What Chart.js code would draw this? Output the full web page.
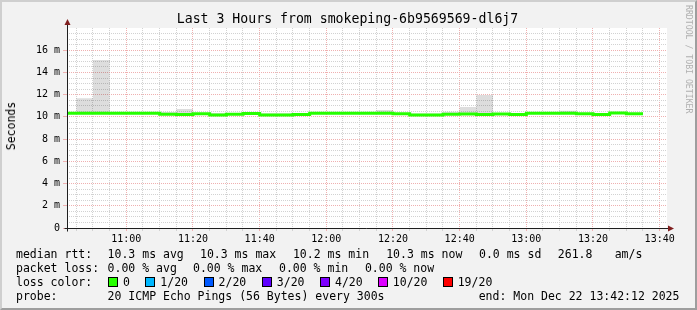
<!DOCTYPE html>
<html>
<head>
<meta charset="utf-8">
<script src="https://cdn.jsdelivr.net/npm/chart.js@4/dist/chart.umd.min.js"></script>
<style>
  html, body { margin: 0; padding: 0; background: #f2f2f2; }
  #frame { position: relative; width: 697px; height: 310px; background: #f2f2f2; overflow: hidden;
           font-family: "DejaVu Sans Mono", monospace; color: #000; }
  #frame canvas { position: absolute; left: 0; top: 0; }
  .txt { position: absolute; white-space: pre; font-size: 11.5px; line-height: 14px; }
  .box { position: absolute; width: 8px; height: 8px; border: 1px solid #000; }
  #title { position: absolute; left: 0; width: 695px; top: 11px; text-align: center; font-size: 13.2px; line-height: 16px; white-space: pre; }
  #ylabel { position: absolute; left: 11px; top: 126px; font-size: 11.5px; line-height: 14px; white-space: pre;
            transform: translate(-50%, -50%) rotate(-90deg); }
  #mark { position: absolute; left: 684px; top: 5px; font-size: 8.2px; line-height: 10px; color: #b0b0b0;
          writing-mode: vertical-rl; white-space: pre; }
  #shade { position: absolute; left: 0; top: 0; width: 697px; height: 310px; box-sizing: border-box; pointer-events: none;
           border-top: 2px solid #cfcfcf; border-left: 2px solid #cfcfcf;
           border-right: 2px solid #9e9e9e; border-bottom: 2px solid #9e9e9e; }
</style>
</head>
<body>
<div id="frame">
  <canvas id="chart" width="697" height="310"></canvas>
  <div id="title">Last 3 Hours from smokeping-6b9569569-dl6j7</div>
  <div id="ylabel">Seconds</div>
  <div id="mark">RRDTOOL / TOBI OETIKER</div>
  <div id="legend"></div>
  <div id="shade"></div>
</div>
<script>
"use strict";
// graph window: 10:42:12 .. 13:42:12, in minutes since midnight
const windowStart = 10 * 60 + 42 + 12 / 60;
const windowEnd = windowStart + 180;
// 5 minute samples, first one starts at 10:40
const sampleStart = 10 * 60 + 40;
const sampleStep = 5;

// median rtt per sample (ms)
const medianRtt = [10.32, 10.32, 10.32, 10.32, 10.32, 10.32, 10.24, 10.21, 10.29, 10.18,
                   10.24, 10.30, 10.18, 10.18, 10.21, 10.33, 10.33, 10.33, 10.33, 10.33,
                   10.28, 10.18, 10.17, 10.23, 10.27, 10.22, 10.27, 10.22, 10.33, 10.33,
                   10.33, 10.28, 10.22, 10.35, 10.28];
// top of the smoke (slowest ping) per sample (ms)
const smokeTop = [10.40, 11.67, 15.12, 10.40, 10.40, 10.40, 10.45, 10.70, 10.35, 10.36,
                  10.35, 10.35, 10.33, 10.33, 10.30, 10.40, 10.40, 10.40, 10.40, 10.63,
                  10.35, 10.30, 10.30, 10.47, 10.90, 11.97, 10.35, 10.30, 10.40, 10.40,
                  10.55, 10.35, 10.30, 10.40, 10.35];

const xTickValues = [660, 680, 700, 720, 740, 760, 780, 800, 820];
const xTickLabels = ["11:00", "11:20", "11:40", "12:00", "12:20", "12:40", "13:00", "13:20", "13:40"];
const yTickValues = [0, 2, 4, 6, 8, 10, 12, 14, 16];
const yTickLabels = ["0", "2 m", "4 m", "6 m", "8 m", "10 m", "12 m", "14 m", "16 m"];
const yMax = 18;

const lossLabels = ["0", "1/20", "2/20", "3/20", "4/20", "10/20", "19/20"];
const lossColors = ["#26ff00", "#00b8ff", "#0059ff", "#5e00ff", "#7e00ff", "#dd00ff", "#ff0000"];

const GRID = "#d2d2d2";
const MGRID = "#efb0b0";

function stepPoints(values) {
    const pts = [];
    for(let i = 0; i <= values.length; i++) {
        pts.push({x: sampleStart + i * sampleStep, y: values[Math.min(i, values.length - 1)]});
    }
    return pts;
}

// legend lines under the graph
const legend = document.getElementById("legend");
function addText(x, y, text) {
    const d = document.createElement("div");
    d.className = "txt";
    d.style.left = x + "px";
    d.style.top = (y - 7) + "px";
    d.textContent = text;
    legend.appendChild(d);
}
[
    [16, 254, "median rtt:"], [107.6, 254, "10.3 ms avg"], [200, 254, "10.3 ms max"],
    [292.9, 254, "10.2 ms min"], [386.2, 254, "10.3 ms now"], [479, 254, "0.0 ms sd"],
    [557.8, 254, "261.8"], [614.7, 254, "am/s"],
    [16, 268, "packet loss:"], [107.6, 268, "0.00 % avg"], [193, 268, "0.00 % max"],
    [279, 268, "0.00 % min"], [364.9, 268, "0.00 % now"],
    [16, 282, "loss color:"],
    [16, 296, "probe:"], [107.6, 296, "20 ICMP Echo Pings (56 Bytes) every 300s"],
    [478.7, 296, "end: Mon Dec 22 13:42:12 2025"]
].forEach(t => addText(t[0], t[1], t[2]));
const boxX = [108, 145.3, 203.6, 261.8, 320, 377.8, 442.7];
lossLabels.forEach((label, i) => {
    const b = document.createElement("div");
    b.className = "box";
    b.style.left = boxX[i] + "px";
    b.style.top = "277px";
    b.style.background = lossColors[i];
    legend.appendChild(b);
    addText(boxX[i] + 15, 282, label);
});

const rrdFrame = {
    id: "rrdFrame",
    beforeDraw(chart) {
        const {ctx, chartArea: a} = chart;
        ctx.save();
        ctx.fillStyle = "#ffffff";
        ctx.fillRect(a.left, a.top, a.right - a.left, a.bottom - a.top);
        ctx.restore();
    },
    afterDraw(chart) {
        const {ctx, chartArea: a} = chart;
        const x0 = Math.round(a.left) + 0.5;
        const y0 = Math.round(a.bottom) + 0.5;
        ctx.save();
        ctx.strokeStyle = "#1f1f1f";
        ctx.lineWidth = 1;
        ctx.beginPath();
        ctx.moveTo(x0, y0 + 3);
        ctx.lineTo(x0, a.top - 4);
        ctx.moveTo(x0 - 3, y0);
        ctx.lineTo(a.right + 2, y0);
        ctx.stroke();
        ctx.fillStyle = "#801f1f";
        ctx.beginPath();
        ctx.moveTo(x0 - 3, a.top - 3);
        ctx.lineTo(x0 + 3, a.top - 3);
        ctx.lineTo(x0, a.top - 9);
        ctx.closePath();
        ctx.fill();
        ctx.beginPath();
        ctx.moveTo(a.right + 1, y0 - 3);
        ctx.lineTo(a.right + 1, y0 + 3);
        ctx.lineTo(a.right + 7, y0);
        ctx.closePath();
        ctx.fill();
        ctx.restore();
    }
};

const isMajorX = v => xTickValues.includes(v);
const isMajorY = v => yTickValues.includes(v);

Chart.defaults.font.family = "'DejaVu Sans Mono', monospace";

new Chart(document.getElementById("chart"), {
    type: "line",
    data: {
        datasets: [
            {
                label: "median",
                data: stepPoints(medianRtt),
                stepped: "before",
                borderColor: lossColors[0],
                borderWidth: 3,
                pointRadius: 0,
                fill: false,
                order: 0
            }, {
                label: "smoke",
                data: stepPoints(smokeTop),
                stepped: "before",
                borderWidth: 0,
                borderColor: "rgba(0,0,0,0)",
                backgroundColor: "rgba(0,0,0,0.135)",
                pointRadius: 0,
                fill: "-1",
                order: 1
            }
        ]
    },
    options: {
        responsive: false,
        animation: false,
        devicePixelRatio: 1,
        layout: {padding: {top: 28, right: 30, left: 0, bottom: 0}},
        plugins: {legend: {display: false}, tooltip: {enabled: false}},
        scales: {
            x: {
                type: "linear",
                min: windowStart,
                max: windowEnd,
                afterFit: s => { s.height = 82; },
                afterBuildTicks: s => {
                    const ticks = [];
                    for(let v = 645; v <= windowEnd; v += 5) ticks.push({value: v});
                    s.ticks = ticks;
                },
                grid: {
                    color: c => isMajorX(c.tick.value) ? MGRID : GRID,
                    tickColor: c => isMajorX(c.tick.value) ? MGRID : GRID,
                    tickLength: 3
                },
                border: {display: false, dash: [1, 1]},
                ticks: {
                    autoSkip: false,
                    maxRotation: 0,
                    padding: 2,
                    color: "#000",
                    font: {size: 10},
                    callback: v => isMajorX(v) ? xTickLabels[xTickValues.indexOf(v)] : ""
                }
            },
            y: {
                type: "linear",
                min: 0,
                max: yMax,
                afterFit: s => { s.width = 67; },
                afterBuildTicks: s => {
                    const ticks = [];
                    for(let v = 0; v < yMax; v += 0.5) ticks.push({value: v});
                    s.ticks = ticks;
                },
                grid: {
                    color: c => isMajorY(c.tick.value) ? MGRID : GRID,
                    tickColor: c => isMajorY(c.tick.value) ? MGRID : "rgba(0,0,0,0)",
                    tickLength: 4
                },
                border: {display: false, dash: [1, 1]},
                ticks: {
                    autoSkip: false,
                    padding: 3,
                    color: "#000",
                    font: {size: 10},
                    callback: v => isMajorY(v) ? yTickLabels[yTickValues.indexOf(v)] : ""
                }
            }
        }
    },
    plugins: [rrdFrame]
});
</script>
</body>
</html>
